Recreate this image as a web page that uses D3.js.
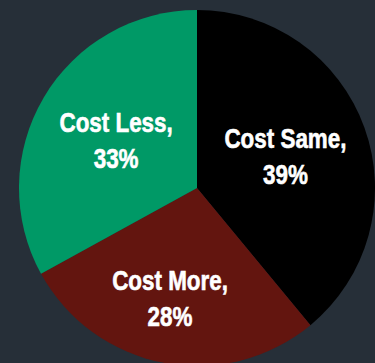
<!DOCTYPE html>
<html>
<head>
<meta charset="utf-8">
<script src="https://cdn.jsdelivr.net/npm/d3@7/dist/d3.min.js"></script>
<style>
  html, body { margin: 0; padding: 0; background: #262f38; }
  svg { display: block; }
</style>
</head>
<body>
<svg id="chart" width="375" height="363"></svg>
<script>
// Survey answer shares, clockwise from 12 o'clock
const categories = ["Cost Same", "Cost More", "Cost Less"];
const shares = [39, 28, 33];
const sliceColors = ["#000000", "#63150f", "#009966"];

const width = 375, height = 363;
const cx = 197, cy = 188, radius = 178;

// label block placement: distance from the centre plus a small sideways nudge
const labelRadius = { "Cost Same": 94, "Cost More": 112, "Cost Less": 94 };
const labelNudgeX = { "Cost Same": 0, "Cost More": -6, "Cost Less": 0 };

const svg = d3.select("#chart");
svg.append("rect").attr("width", width).attr("height", height).attr("fill", "#262f38");

const data = categories.map((c, i) => ({ name: c, value: shares[i], color: sliceColors[i] }));

const pie = d3.pie().sort(null).value(d => d.value);
const arc = d3.arc().innerRadius(0).outerRadius(radius);

const g = svg.append("g").attr("transform", `translate(${cx},${cy})`);
const arcs = pie(data);

g.selectAll("path.slice")
  .data(arcs)
  .join("path")
  .attr("class", "slice")
  .attr("d", arc)
  .attr("fill", d => d.data.color);

const labels = g.selectAll("text.label")
  .data(arcs)
  .join("text")
  .attr("class", "label")
  .attr("text-anchor", "middle")
  .attr("fill", "#ffffff")
  .attr("stroke", "#ffffff")
  .attr("stroke-width", 0.6)
  .style("font-family", "'Liberation Sans', Arial, sans-serif")
  .style("font-weight", "bold")
  .style("font-size", "27px")
  .attr("transform", d => {
    const r = labelRadius[d.data.name];
    const [x, y] = d3.arc().innerRadius(r).outerRadius(r).centroid(d);
    return `translate(${x + labelNudgeX[d.data.name]},${y}) scale(0.83,1)`;
  });

labels.append("tspan").attr("x", 0).attr("y", -8).text(d => d.data.name + ",");
labels.append("tspan").attr("x", 0).attr("y", 28).text(d => d.data.value + "%");
</script>
</body>
</html>
